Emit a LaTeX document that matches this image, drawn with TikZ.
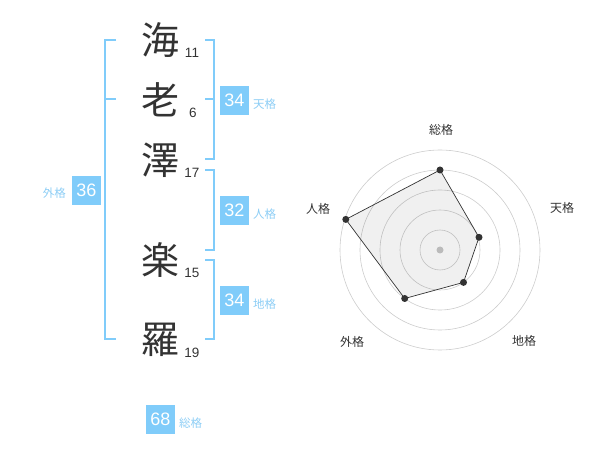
\documentclass[tikz,border=0pt]{standalone}
\usepackage{fontspec}
\setmainfont{Liberation Sans}
\newfontfamily\jp{Noto Sans CJK JP}
\definecolor{sky}{RGB}{128,204,250}
\definecolor{skytext}{RGB}{140,205,245}
\definecolor{ink}{RGB}{51,51,51}
\begin{document}
\begin{tikzpicture}[x=1pt,y=-1pt,
 kanji/.style={font=\jp\fontsize{38}{38}\selectfont, text=ink, inner sep=0},
 strokes/.style={font=\fontsize{13.5}{13.5}\selectfont, text=ink, inner sep=0},
 valbox/.style={fill=sky, text=white, minimum width=29pt, minimum height=29pt, inner sep=0, font=\fontsize{18}{18}\selectfont},
 kaku/.style={font=\jp\fontsize{11.5}{11.5}\selectfont, text=skytext, inner sep=0},
 brk/.style={draw=sky, line width=2pt},
 ring/.style={draw=black!20, line width=0.6pt},
 axlab/.style={font=\jp\fontsize{12}{12}\selectfont, text=ink, inner sep=0},
 vdot/.style={circle, fill=ink, inner sep=0, minimum size=7pt},
]
\useasboundingbox (0,0) rectangle (600,470);

% name characters
\node[kanji] (k1) at (160,40) {海};
\node[kanji] (k2) at (160,100) {老};
\node[kanji] (k3) at (160,160) {澤};
\node[kanji] (k4) at (160,260) {楽};
\node[kanji] (k5) at (160,340) {羅};
\node[strokes] (s1) at (192,53) {11};
\node[strokes] (s2) at (193,113) {6};
\node[strokes] (s3) at (192,173) {17};
\node[strokes] (s4) at (192,273) {15};
\node[strokes] (s5) at (192,353) {19};

% brackets
\draw[brk] (116,40) -- (105,40) -- (105,339) -- (116,339);
\draw[brk] (105,99.5) -- (116,99.5);
\draw[brk] (205,40) -- (214,40) -- (214,159) -- (205,159);
\draw[brk] (205,99.5) -- (214,99.5);
\draw[brk] (205,170) -- (214,170) -- (214,250) -- (205,250);
\draw[brk] (205,260) -- (214,260) -- (214,339) -- (205,339);

% values
\node[valbox] (vten) at (234.5,100.5) {34};
\node[kaku, anchor=west] (lten) at (253,104) {天格};
\node[valbox] (vjin) at (234.5,210.5) {32};
\node[kaku, anchor=west] (ljin) at (253,214) {人格};
\node[valbox] (vchi) at (234.5,300.5) {34};
\node[kaku, anchor=west] (lchi) at (253,304) {地格};
\node[valbox] (vgai) at (86.5,190.5) {36};
\node[kaku, anchor=east] (lgai) at (66,193) {外格};
\node[valbox] (vso) at (160.5,419.5) {68};
\node[kaku, anchor=west] (lso) at (179,423) {総格};

% radar
\coordinate (c) at (440,250);
\foreach \r in {20,40,60,80,100} \draw[ring] (c) circle[radius=\r];
\fill[black!22] (c) circle[radius=3.5];
\coordinate (pso) at (440,170);
\coordinate (pten) at (479,237.3);
\coordinate (pchi) at (463.5,282.4);
\coordinate (pgai) at (404.7,298.5);
\coordinate (pjin) at (345.8,219.4);
\fill[black, fill opacity=0.06] (pso) -- (pten) -- (pchi) -- (pgai) -- (pjin) -- cycle;
\draw[draw=ink, line width=0.7pt] (pso) -- (pten) -- (pchi) -- (pgai) -- (pjin) -- cycle;
\foreach \p in {pso,pten,pchi,pgai,pjin} \node[vdot] (d\p) at (\p) {};
\node[axlab] (aso) at (441,130) {総格};
\node[axlab] (aten) at (562,208) {天格};
\node[axlab] (achi) at (524,341) {地格};
\node[axlab] (agai) at (352,342) {外格};
\node[axlab] (ajin) at (318,209) {人格};
\end{tikzpicture}
\end{document}
